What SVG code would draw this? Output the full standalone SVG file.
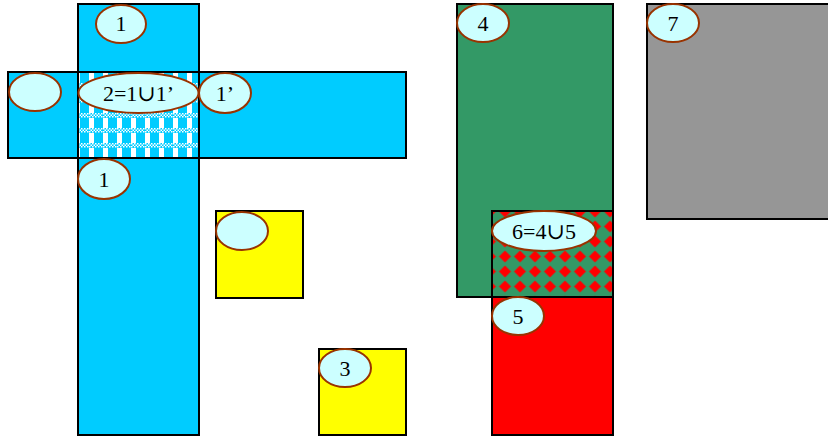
<svg xmlns="http://www.w3.org/2000/svg" width="828" height="437" viewBox="0 0 828 437">
<style>
.box{stroke:#000;stroke-width:2}
.lbl{fill:#CCFFFF;stroke:#993300;stroke-width:2}
.t{font-family:"Liberation Serif","DejaVu Serif",serif;font-size:22px;fill:#000;text-anchor:middle}
</style>
<defs>
<pattern id="plaid" patternUnits="userSpaceOnUse" x="5" y="8" width="14" height="15">
<rect width="14" height="15" fill="#00CCFF"/>
<rect x="0" y="0" width="5" height="15" fill="#fff"/>
<rect x="0" y="0" width="14" height="5" fill="#00CCFF"/>
<g fill="#fff">
<rect x="0" y="0" width="1.5" height="1.5"/><rect x="3" y="0" width="1.5" height="1.5"/><rect x="6" y="0" width="1.5" height="1.5"/><rect x="9" y="0" width="1.5" height="1.5"/><rect x="12" y="0" width="1.5" height="1.5"/>
<rect x="1.5" y="1.5" width="1.5" height="1.5"/><rect x="4.5" y="1.5" width="1.5" height="1.5"/><rect x="7.5" y="1.5" width="1.5" height="1.5"/><rect x="10.5" y="1.5" width="1.5" height="1.5"/>
<rect x="0" y="3" width="1.5" height="1.5"/><rect x="3" y="3" width="1.5" height="1.5"/><rect x="6" y="3" width="1.5" height="1.5"/><rect x="9" y="3" width="1.5" height="1.5"/><rect x="12" y="3" width="1.5" height="1.5"/>
</g>
</pattern>
<pattern id="diamond" patternUnits="userSpaceOnUse" x="2.5" y="9" width="15" height="15">
<rect width="15" height="15" fill="#339966"/>
<polygon points="7.5,1.5 13.5,7.5 7.5,13.5 1.5,7.5" fill="#FF0000"/>
</pattern>
</defs>

<g id="shape-1">
<rect class="box" x="78" y="4" width="121" height="431" fill="#00CCFF"/>
</g>
<g id="shape-1prime">
<rect class="box" x="8" y="72" width="398" height="86" fill="#00CCFF"/>
</g>
<g id="shape-2">
<rect class="box" x="78" y="72" width="121" height="86" fill="url(#plaid)"/>
</g>
<g id="shape-yellow-a">
<rect class="box" x="216" y="211" width="87" height="87" fill="#FFFF00"/>
</g>
<g id="shape-3">
<rect class="box" x="319" y="349" width="87" height="86" fill="#FFFF00"/>
</g>
<g id="shape-4">
<rect class="box" x="457" y="4" width="156" height="293" fill="#339966"/>
</g>
<g id="shape-6">
<rect class="box" x="492" y="211" width="121" height="86" fill="url(#diamond)"/>
</g>
<g id="shape-5">
<rect class="box" x="492" y="297" width="121" height="138" fill="#FF0000"/>
</g>
<g id="shape-7">
<rect class="box" x="647" y="4" width="200" height="215" fill="#969696"/>
</g>

<g id="connectors"></g>

<g id="label-1-top">
<ellipse class="lbl" cx="121" cy="24" rx="25" ry="19"/>
<text class="t" x="121" y="31">1</text>
</g>
<g id="label-empty-left">
<ellipse class="lbl" cx="35" cy="92" rx="26" ry="19"/>
</g>
<g id="label-2">
<ellipse class="lbl" cx="138.5" cy="93" rx="60" ry="20"/>
<text class="t" x="138.5" y="101">2=1∪1’</text>
</g>
<g id="label-1prime">
<ellipse class="lbl" cx="225" cy="93" rx="26" ry="20"/>
<text class="t" x="225" y="101">1’</text>
</g>
<g id="label-1-bottom">
<ellipse class="lbl" cx="104" cy="179" rx="26" ry="20"/>
<text class="t" x="104" y="187">1</text>
</g>
<g id="label-empty-yellow">
<ellipse class="lbl" cx="242" cy="231" rx="26" ry="19"/>
</g>
<g id="label-3">
<ellipse class="lbl" cx="345" cy="368" rx="26" ry="19"/>
<text class="t" x="345" y="376">3</text>
</g>
<g id="label-4">
<ellipse class="lbl" cx="483" cy="23" rx="26" ry="19"/>
<text class="t" x="483" y="31">4</text>
</g>
<g id="label-6">
<ellipse class="lbl" cx="544" cy="231" rx="52" ry="20"/>
<text class="t" x="544" y="239">6=4∪5</text>
</g>
<g id="label-5">
<ellipse class="lbl" cx="518" cy="316" rx="26" ry="19"/>
<text class="t" x="518" y="324">5</text>
</g>
<g id="label-7">
<ellipse class="lbl" cx="673" cy="23" rx="26" ry="19"/>
<text class="t" x="673" y="31">7</text>
</g>
</svg>
